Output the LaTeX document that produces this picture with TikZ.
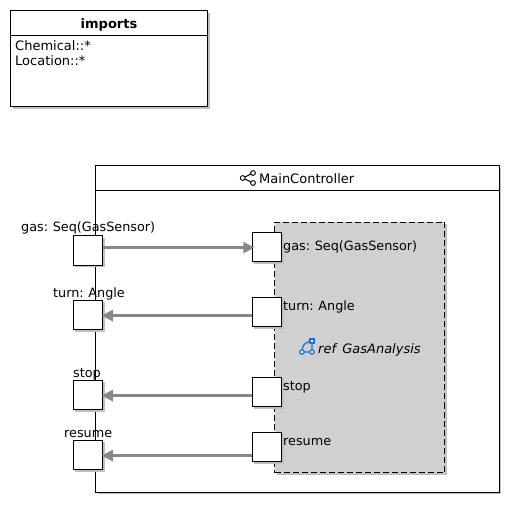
\documentclass[tikz,border=0pt]{standalone}
\usepackage{fontspec}
\setmainfont[WordSpace=0.8]{DejaVu Sans}
\newfontfamily\reffont[WordSpace=1.5]{DejaVu Sans}
\usetikzlibrary{arrows.meta}
\definecolor{refblue}{HTML}{1A73E8}
\definecolor{fillgrey}{HTML}{D0D0D0}
\definecolor{arrowgrey}{HTML}{888888}
\tikzset{
  x=1pt,y=-1pt,
  every node/.style={font=\fontsize{13}{15}\selectfont,text=black,inner sep=0pt},
  panel/.style={draw=black,line width=1pt,fill=white,inner sep=0pt,outer sep=0pt},
  shadowed/.style={preaction={draw=none,fill=black!25,transform canvas={xshift=2pt,yshift=-2pt}}},
  portbox/.style={panel,shadowed,minimum width=29.5pt,minimum height=29.5pt},
  flow/.style={draw=arrowgrey,line width=3pt,-{Triangle[length=11pt,width=11pt]}},
  lbl/.style={anchor=base west},
  sizedlbl/.style={lbl,font=\fontsize{12.8}{15}\selectfont},
  iconline/.style={draw=black,line width=.9pt},
}
\begin{document}
\begin{tikzpicture}
\useasboundingbox (0,0) rectangle (512,505);
% imports
\node[panel,shadowed,anchor=north west,minimum width=197pt,minimum height=96pt] (imports) at (10.5,11) {};
\draw[line width=1pt] (imports.west |- 0,35.5) coordinate (ia) -- (imports.east |- 0,35.5) coordinate (ib);
\node[font=\fontsize{13}{15}\selectfont\bfseries] (ititle) at (109,24.5) {imports};
\node[lbl] (i1) at (15,50.5) {Chemical::*};
\node[lbl] (i2) at (15,65.5) {Location::*};
% controller
\node[panel,shadowed,anchor=north west,minimum width=403.5pt,minimum height=326pt] (main) at (95.5,166) {};
\draw[line width=1pt] (main.west |- 0,191) coordinate (ma) -- (main.east |- 0,191) coordinate (mb);
\node[lbl] (mtitle) at (259,183.6) {MainController};
% icon
\draw[iconline] (242.7,178) circle (2.4) (253,173) circle (2.4) (253,183) circle (2.4);
\draw[iconline] (245,177) -- (251,174) (245,179) -- (251,182);
% analysis block
\node[draw=black,dash pattern=on 6pt off 3pt,line width=1pt,fill=fillgrey,shadowed,anchor=north west,minimum width=170pt,minimum height=250pt,inner sep=0pt,outer sep=0pt] (ana) at (274.5,222.5) {};
% ports
\node[portbox] (pgas) at (88,250.5) {};
\node[portbox] (pturn) at (88,315) {};
\node[portbox] (pstop) at (88,395) {};
\node[portbox] (pres) at (88,455) {};
\node[portbox] (igas) at (267,247) {};
\node[portbox] (iturn) at (267,312) {};
\node[portbox] (istop) at (267,392) {};
\node[portbox] (ires) at (267,447) {};
% labels
\node[sizedlbl] (lgas) at (21,232) {gas: Seq(GasSensor)};
\node[sizedlbl] (lturn) at (53,297.8) {turn: Angle};
\node[sizedlbl] (lstop) at (73,377.8) {stop};
\node[sizedlbl] (lres) at (64,437.8) {resume};
\node[sizedlbl] (tgas) at (283,250.8) {gas: Seq(GasSensor)};
\node[sizedlbl] (tturn) at (283,310.8) {turn: Angle};
\node[sizedlbl] (tstop) at (283,390.8) {stop};
\node[sizedlbl] (tres) at (283,445.8) {resume};
\node[lbl,font=\fontsize{13}{15}\selectfont\reffont\itshape] (tref) at (318,353.8) {ref GasAnalysis};
% blue icon
\draw[refblue,line width=1.3pt] (302,352) .. controls (302,345) and (305,342) .. (312,341) (312,341) -- (312,352) (302,352) -- (312,352);
\draw[refblue,line width=1.3pt,fill=white] (302,352) circle (2.2) (312,352) circle (2.2);
\draw[refblue,line width=1.3pt,fill=white] (310,339) rectangle (314,343);
% connectors
\draw[flow,shorten >=-2pt] ([yshift=-.6pt]pgas.east |- igas.west) -- ([yshift=-.6pt]igas.west);
\draw[flow,shorten >=-1pt] ([yshift=-.6pt]iturn.west |- pturn.east) -- ([yshift=-.6pt]pturn.east);
\draw[flow,shorten >=-1pt] ([yshift=-.6pt]istop.west |- pstop.east) -- ([yshift=-.6pt]pstop.east);
\draw[flow,shorten >=-1pt] ([yshift=-.6pt]ires.west |- pres.east) -- ([yshift=-.6pt]pres.east);
\end{tikzpicture}
\end{document}
